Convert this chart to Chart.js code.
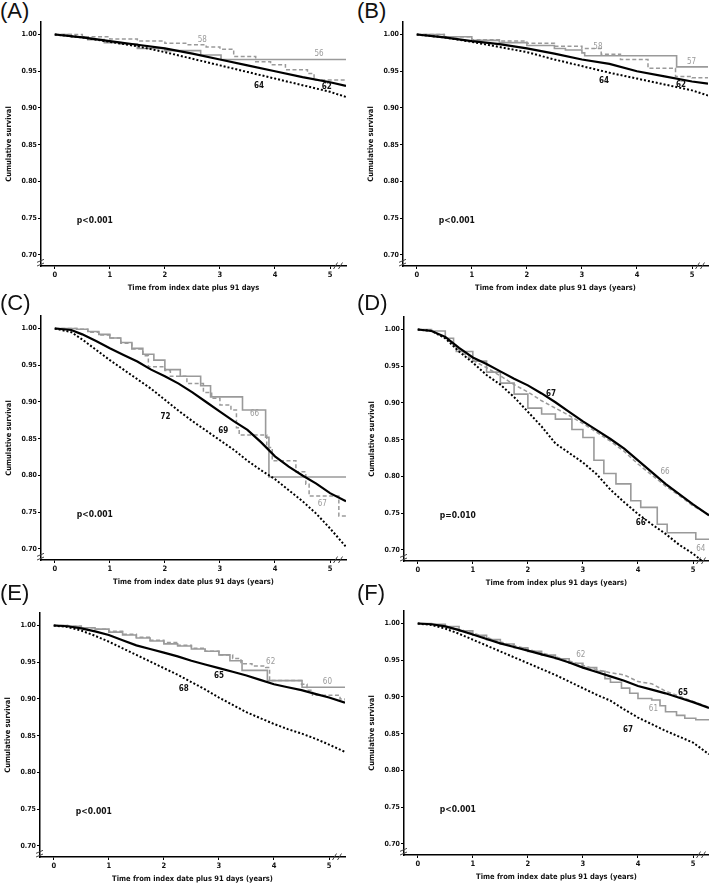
<!DOCTYPE html>
<html>
<head>
<meta charset="utf-8">
<script src="https://cdn.jsdelivr.net/npm/chart.js@4.4.0/dist/chart.umd.min.js"></script>
<style>
body { margin: 0; width: 709px; height: 884px; position: relative; overflow: hidden; background: #fff; }
.lab { position: absolute; font-family: 'Liberation Sans', Arial, sans-serif; font-size: 22px; line-height: 22px; color: #111; }
canvas { position: absolute; }
</style>
</head>
<body>
<script>
// Tick labels shared by all six panels
const xTicks = [0, 1, 2, 3, 4, 5];
const yTicks = [0.70, 0.75, 0.80, 0.85, 0.90, 0.95, 1.00];

// Panel A
const aGraySolid = [[0,1],[0.3,0.997],[0.6,0.993],[0.9,0.989],[1.2,0.987],[1.5,0.981],[2.0,0.978],[2.65,0.972],[3.02,0.966],[5.29,0.966]];
const aGrayDash = [[0,1],[0.5,0.997],[1.0,0.994],[1.5,0.991],[2.0,0.988],[2.4,0.986],[2.75,0.983],[3.0,0.980],[3.25,0.970],[3.65,0.963],[3.92,0.959],[4.19,0.952],[4.59,0.947],[4.71,0.938],[5.29,0.938]];
const aBlackSolid = [[0,1],[0.5,0.996],[1,0.991],[1.5,0.986],[2,0.981],[2.5,0.974],[3,0.966],[3.5,0.958],[4,0.950],[4.5,0.942],[5,0.935],[5.29,0.930]];
const aBlackDot = [[0,1],[0.5,0.996],[1,0.990],[1.5,0.984],[2,0.976],[2.5,0.967],[3,0.958],[3.5,0.949],[4,0.940],[4.5,0.931],[5,0.922],[5.29,0.915]];

// Panel B
const bGraySolid = [[0,1],[0.5,0.997],[1,0.992],[1.5,0.989],[2,0.985],[2.5,0.981],[2.7,0.979],[3.0,0.975],[3.05,0.971],[4.72,0.956],[5.29,0.956]];
const bGrayDash = [[0,1],[0.5,0.997],[1,0.993],[1.5,0.991],[2,0.988],[2.5,0.984],[3,0.981],[3.35,0.973],[3.7,0.966],[4.2,0.954],[4.7,0.943],[5.0,0.941],[5.29,0.941]];
const bBlackSolid = [[0,1],[0.5,0.996],[1,0.991],[1.5,0.987],[2,0.981],[2.5,0.974],[3,0.966],[3.5,0.960],[4,0.950],[4.5,0.943],[5,0.936],[5.29,0.933]];
const bBlackDot = [[0,1],[0.5,0.996],[1,0.990],[1.5,0.983],[2,0.976],[2.5,0.966],[3,0.957],[3.5,0.948],[4,0.940],[4.5,0.932],[5,0.924],[5.29,0.917]];

// Panel C
const cGraySolid = [[0,1],[0.4,0.999],[0.6,0.996],[0.8,0.992],[1.0,0.987],[1.2,0.981],[1.4,0.973],[1.6,0.965],[1.8,0.957],[2.0,0.944],[2.28,0.935],[2.65,0.922],[2.83,0.907],[3.41,0.889],[3.83,0.852],[3.89,0.798],[5.29,0.798]];
const cGrayDash = [[0,1],[0.4,0.999],[0.6,0.995],[0.8,0.991],[1.0,0.987],[1.2,0.980],[1.4,0.972],[1.6,0.963],[1.7,0.948],[2.0,0.943],[2.1,0.935],[2.4,0.925],[2.7,0.913],[2.85,0.905],[3.0,0.896],[3.2,0.889],[3.3,0.865],[3.35,0.855],[3.85,0.838],[3.95,0.820],[4.38,0.805],[4.56,0.788],[4.62,0.772],[5.16,0.745],[5.29,0.745]];
const cBlackSolid = [[0,1],[0.3,0.998],[0.5,0.992],[0.75,0.983],[1,0.973],[1.25,0.964],[1.5,0.955],[1.75,0.944],[2,0.935],[2.25,0.925],[2.5,0.913],[2.75,0.900],[3,0.887],[3.25,0.874],[3.5,0.862],[3.75,0.845],[4,0.826],[4.25,0.812],[4.5,0.800],[4.75,0.789],[5,0.776],[5.29,0.765]];
const cBlackDot = [[0,1],[0.3,0.995],[0.5,0.985],[0.75,0.971],[1,0.957],[1.25,0.944],[1.5,0.931],[1.75,0.918],[2,0.903],[2.25,0.888],[2.5,0.874],[2.75,0.861],[3,0.848],[3.25,0.835],[3.5,0.820],[3.75,0.807],[4,0.795],[4.25,0.780],[4.5,0.765],[4.75,0.748],[5,0.728],[5.29,0.703]];

// Panel D
const dGraySolid = [[0,1],[0.25,0.998],[0.5,0.988],[0.65,0.978],[0.7,0.970],[1,0.957],[1.25,0.942],[1.5,0.927],[1.75,0.912],[2,0.893],[2.25,0.885],[2.5,0.878],[2.8,0.864],[3.0,0.853],[3.2,0.822],[3.38,0.804],[3.6,0.790],[3.87,0.767],[4.05,0.758],[4.35,0.735],[4.53,0.7235],[5.05,0.7145],[5.29,0.7145]];
const dGrayDash = [[0,1],[0.25,0.998],[0.5,0.989],[0.75,0.972],[1,0.958],[1.25,0.948],[1.5,0.937],[1.75,0.925],[2,0.915],[2.25,0.903],[2.5,0.893],[2.75,0.883],[3,0.872],[3.25,0.860],[3.5,0.848],[3.75,0.834],[4,0.817],[4.25,0.802],[4.5,0.787],[4.75,0.774],[5,0.760],[5.29,0.748]];
const dBlackSolid = [[0,1],[0.25,0.998],[0.5,0.990],[0.75,0.975],[1,0.962],[1.25,0.953],[1.5,0.943],[1.75,0.933],[2,0.924],[2.25,0.913],[2.5,0.901],[2.75,0.888],[3,0.875],[3.25,0.863],[3.5,0.851],[3.75,0.838],[4,0.822],[4.25,0.806],[4.5,0.790],[4.75,0.776],[5,0.762],[5.29,0.747]];
const dBlackDot = [[0,1],[0.25,0.998],[0.5,0.988],[0.75,0.970],[1,0.955],[1.25,0.938],[1.5,0.925],[1.75,0.908],[2,0.888],[2.25,0.868],[2.5,0.845],[2.75,0.832],[3,0.819],[3.25,0.803],[3.5,0.782],[3.75,0.765],[4,0.749],[4.25,0.735],[4.5,0.722],[4.75,0.707],[5,0.695],[5.15,0.686]];

// Panel E
const eGraySolid = [[0,1],[0.25,0.999],[0.5,0.997],[0.75,0.995],[1,0.991],[1.25,0.987],[1.5,0.983],[1.75,0.979],[2,0.975],[2.25,0.972],[2.5,0.968],[2.75,0.965],[3.0,0.960],[3.2,0.952],[3.42,0.939],[3.88,0.925],[4.51,0.916],[5.29,0.916]];
const eGrayDash = [[0,1],[0.25,0.999],[0.5,0.997],[0.75,0.995],[1,0.992],[1.25,0.988],[1.5,0.984],[1.75,0.980],[2,0.977],[2.25,0.973],[2.5,0.969],[2.75,0.965],[3,0.960],[3.25,0.955],[3.4,0.948],[3.6,0.945],[3.85,0.943],[3.92,0.925],[4.5,0.920],[4.6,0.912],[4.7,0.905],[5.2,0.900],[5.29,0.898]];
const eBlackSolid = [[0,1],[0.25,0.999],[0.5,0.996],[0.75,0.992],[1,0.987],[1.25,0.980],[1.5,0.973],[1.75,0.968],[2,0.963],[2.25,0.958],[2.5,0.952],[2.75,0.947],[3,0.942],[3.25,0.937],[3.5,0.932],[3.75,0.926],[4,0.920],[4.25,0.916],[4.5,0.912],[4.75,0.907],[5,0.902],[5.29,0.895]];
const eBlackDot = [[0,1],[0.25,0.998],[0.5,0.993],[0.75,0.986],[1,0.978],[1.25,0.969],[1.5,0.960],[1.75,0.951],[2,0.942],[2.25,0.933],[2.5,0.923],[2.75,0.913],[3,0.902],[3.25,0.892],[3.5,0.882],[3.75,0.874],[4,0.866],[4.25,0.859],[4.5,0.853],[4.75,0.846],[5,0.838],[5.29,0.828]];

// Panel F
const fGraySolid = [[0,1],[0.25,0.999],[0.5,0.996],[0.75,0.990],[1,0.984],[1.25,0.978],[1.5,0.972],[1.75,0.967],[2,0.962],[2.25,0.957],[2.5,0.952],[2.75,0.946],[3,0.940],[3.25,0.935],[3.4,0.925],[3.5,0.920],[3.7,0.912],[3.85,0.905],[4.0,0.898],[4.25,0.896],[4.4,0.888],[4.5,0.880],[4.7,0.875],[4.85,0.871],[5.05,0.869],[5.29,0.869]];
const fGrayDash = [[0,1],[0.25,0.999],[0.5,0.996],[0.75,0.992],[1,0.987],[1.25,0.981],[1.5,0.975],[1.75,0.970],[2,0.965],[2.25,0.960],[2.5,0.955],[2.75,0.949],[3,0.943],[3.25,0.937],[3.5,0.933],[3.75,0.930],[4,0.921],[4.25,0.918],[4.5,0.908],[4.75,0.901],[5,0.894],[5.29,0.886]];
const fBlackSolid = [[0,1],[0.25,0.999],[0.5,0.996],[0.75,0.991],[1,0.985],[1.25,0.979],[1.5,0.973],[1.75,0.968],[2,0.963],[2.25,0.958],[2.5,0.953],[2.75,0.947],[3,0.940],[3.25,0.934],[3.5,0.928],[3.75,0.922],[4,0.915],[4.25,0.910],[4.5,0.905],[4.75,0.899],[5,0.893],[5.29,0.885]];
const fBlackDot = [[0,1],[0.25,0.998],[0.5,0.993],[0.75,0.986],[1,0.978],[1.25,0.970],[1.5,0.962],[1.75,0.954],[2,0.946],[2.25,0.938],[2.5,0.930],[2.75,0.921],[3,0.912],[3.25,0.903],[3.5,0.895],[3.75,0.883],[4,0.872],[4.25,0.863],[4.5,0.854],[4.75,0.846],[5,0.838],[5.29,0.822]];

// curve labels: [x, y, text, isGray]
const aLabels = [[2.68,0.992,'58',1],[4.8,0.974,'56',1],[3.71,0.930,'64',0],[4.94,0.928,'62',0]];
const bLabels = [[3.29,0.983,'58',1],[4.99,0.963,'57',1],[3.4,0.937,'64',0],[4.8,0.931,'62',0]];
const cLabels = [[3.63,0.884,'66',1],[3.06,0.861,'69',0],[2.01,0.879,'72',0],[4.86,0.761,'67',1]];
const dLabels = [[2.42,0.912,'67',0],[4.49,0.806,'66',1],[4.05,0.737,'66',0],[5.14,0.702,'64',1]];
const eLabels = [[3.94,0.950,'62',1],[4.97,0.923,'60',1],[3.0,0.932,'65',0],[2.36,0.914,'68',0]];
const fLabels = [[2.96,0.957,'62',1],[4.82,0.905,'65',0],[4.28,0.884,'61',1],[3.82,0.855,'67',0]];

const FONT = "'DejaVu Sans Condensed', 'DejaVu Sans', sans-serif";
const GRAY = '#9a9a9a';

const panels = [
  { tag: '(A)', tl: [0, 0], pos: [1, 7], xTitle: 'Time from index date plus 91 days', p: 'p<0.001',
    lines: [aBlackSolid, aBlackDot, aGraySolid, aGrayDash], stepGray: true, labels: aLabels },
  { tag: '(B)', tl: [357, 0], pos: [363, 7], xTitle: 'Time from index date plus 91 days (years)', p: 'p<0.001',
    lines: [bBlackSolid, bBlackDot, bGraySolid, bGrayDash], stepGray: true, labels: bLabels },
  { tag: '(C)', tl: [0, 292], pos: [1, 301], xTitle: 'Time from index date plus 91 days (years)', p: 'p<0.001',
    lines: [cBlackSolid, cBlackDot, cGraySolid, cGrayDash], stepGray: true, labels: cLabels },
  { tag: '(D)', tl: [357, 292], pos: [364, 302], xTitle: 'Time from index plus 91 days (years)', p: 'p=0.010',
    lines: [dBlackSolid, dBlackDot, dGraySolid, dGrayDash], stepGray: false, labels: dLabels },
  { tag: '(E)', tl: [0, 582], pos: [0, 598], xTitle: 'Time from index date plus 91 days (years)', p: 'p<0.001',
    lines: [eBlackSolid, eBlackDot, eGraySolid, eGrayDash], stepGray: true, labels: eLabels },
  { tag: '(F)', tl: [357, 582], pos: [364, 596], xTitle: 'Time from index date plus 91 days (years)', p: 'p<0.001',
    lines: [fBlackSolid, fBlackDot, fGraySolid, fGrayDash], stepGray: false, labels: fLabels }
];

function pts(arr) {
  return arr.map(p => ({ x: p[0], y: p[1] }));
}

// texts on the plot and the axis break marks
const extras = {
  id: 'extras',
  afterDatasetsDraw(chart, args, opts) {
    const { ctx, scales: { x, y } } = chart;
    ctx.save();
    ctx.textAlign = 'center';
    ctx.textBaseline = 'middle';
    opts.labels.forEach(l => {
      ctx.fillStyle = l[3] ? GRAY : '#111';
      ctx.font = (l[3] ? '' : 'bold ') + '8px ' + FONT;
      ctx.fillText(l[2], x.getPixelForValue(l[0]), y.getPixelForValue(l[1]));
    });
    ctx.fillStyle = '#111';
    ctx.font = 'bold 8.5px ' + FONT;
    ctx.textAlign = 'left';
    ctx.fillText(opts.p, x.getPixelForValue(0.4), y.getPixelForValue(0.746));

    // break marks
    ctx.strokeStyle = '#444';
    ctx.lineWidth = 1;
    const ax = chart.chartArea.left;
    [0.692, 0.687].forEach(v => {
      const py = y.getPixelForValue(v);
      ctx.beginPath();
      ctx.moveTo(ax - 4, py + 1.5);
      ctx.lineTo(ax + 3, py - 1.5);
      ctx.stroke();
    });
    const by = chart.chartArea.bottom;
    [5.1, 5.19].forEach(v => {
      const px = x.getPixelForValue(v);
      ctx.beginPath();
      ctx.moveTo(px - 2, by + 3);
      ctx.lineTo(px + 2, by - 3.5);
      ctx.stroke();
    });
    ctx.restore();
  }
};

panels.forEach(pn => {
  const tag = document.createElement('div');
  tag.className = 'lab';
  tag.style.left = pn.tl[0] + 'px';
  tag.style.top = pn.tl[1] + 'px';
  tag.textContent = pn.tag;
  document.body.appendChild(tag);

  const cv = document.createElement('canvas');
  cv.width = 349;
  cv.height = 289;
  cv.style.left = pn.pos[0] + 'px';
  cv.style.top = pn.pos[1] + 'px';
  cv.style.width = '349px';
  cv.style.height = '289px';
  document.body.appendChild(cv);

  const [bs, bd, gs, gd] = pn.lines;
  new Chart(cv, {
    type: 'line',
    data: {
      datasets: [
        { data: pts(bs), borderColor: '#000', borderWidth: 2.2 },
        { data: pts(bd), borderColor: '#000', borderWidth: 2, borderDash: [2, 2] },
        { data: pts(gs), borderColor: GRAY, borderWidth: 1.6, stepped: true },
        { data: pts(gd), borderColor: GRAY, borderWidth: 1.5, borderDash: [4, 2.5], stepped: pn.stepGray }
      ]
    },
    options: {
      responsive: false,
      animation: false,
      events: [],
      layout: { padding: { top: 15, right: 4, left: 0, bottom: 0 } },
      elements: { point: { radius: 0 }, line: { tension: 0, fill: false } },
      plugins: {
        legend: { display: false },
        tooltip: { enabled: false },
        extras: { labels: pn.labels, p: pn.p }
      },
      scales: {
        x: {
          type: 'linear', min: -0.25, max: 5.29,
          afterBuildTicks: s => { s.ticks = xTicks.map(v => ({ value: v })); },
          afterFit: s => { s.height = 30; },
          grid: { drawOnChartArea: false, drawTicks: true, tickLength: 3, color: '#000' },
          border: { color: '#000', width: 1.5 },
          ticks: { color: '#111', padding: 2, font: { family: FONT, size: 7.5, weight: 'bold' }, callback: v => String(v) },
          title: { display: true, text: pn.xTitle, color: '#111', padding: { top: 0, bottom: 3 }, font: { family: FONT, size: 7.5, weight: 'bold' } }
        },
        y: {
          type: 'linear', min: 0.685, max: 1.017,
          afterBuildTicks: s => { s.ticks = yTicks.map(v => ({ value: v })); },
          afterFit: s => { s.width = 40; },
          grid: { drawOnChartArea: false, drawTicks: true, tickLength: 3, color: '#000' },
          border: { color: '#000', width: 1.5 },
          ticks: { color: '#111', padding: 1, font: { family: FONT, size: 7, weight: 'bold' }, callback: v => v.toFixed(2) },
          title: { display: true, text: 'Cumulative survival', color: '#111', padding: { top: 4, bottom: 0 }, font: { family: FONT, size: 7.5, weight: 'bold' } }
        }
      }
    },
    plugins: [extras]
  });
});
</script>
</body>
</html>
